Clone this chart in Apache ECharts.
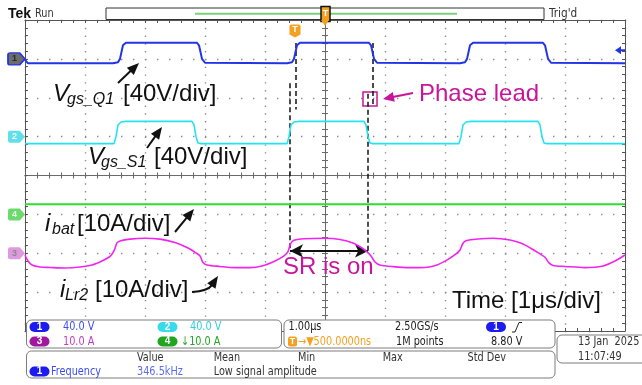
<!DOCTYPE html>
<html>
<head>
<meta charset="utf-8">
<script src="https://cdn.jsdelivr.net/npm/echarts@6/dist/echarts.min.js"></script>
<style>
  html, body { margin: 0; padding: 0; background: #fff; }
  #scope { width: 642px; height: 385px; }
</style>
</head>
<body>
<div id="scope"></div>
<script>
// ---- Acquisition settings -------------------------------------------------
// Time in microseconds relative to the trigger point (screen centre), 1 us/div
const TIME_MIN = -5;
const TIME_MAX = 5;
const DIV_MIN = -4;
const DIV_MAX = 4;

// Per-channel vertical scale (units/div) and position (divisions above centre)
const chScale  = [40, 40, 10, 10];
const chOffset = [3, 1, -2, -1];
const trigLevel = 8.8;              // V on channel 1
const triggerTime = -0.5;           // trigger point, us

// ---- Channel 1: Vgs_Q1 (V) ------------------------------------------------
const q1Time = [-5, -4.95, -3.533, -3.5, -3.45, -3.417, -3.367, -3.317, -2.133, -2.1, -2.05, -2.0, -1.967,
  -0.633, -0.6, -0.55, -0.517, -0.467, -0.417, 0.733, 0.767, 0.817, 0.867, 0.9,
  2.25, 2.283, 2.333, 2.367, 2.417, 2.467, 3.633, 3.667, 3.717, 3.767, 3.8, 5];
const q1Volt = [-1, -4.6, -4.6, -3.5, -3.5, 0, 14, 16.5, 16.5, 14, 0, -4.0, -4.6,
  -4.6, -3.5, -3.5, 0, 14, 16.5, 16.5, 14, 0, -4.0, -4.6,
  -4.6, -3.5, -3.5, 0, 14, 16.5, 16.5, 14, 0, -4.0, -4.6, -4.6];

// ---- Channel 2: Vgs_S1 (V) ------------------------------------------------
const s1Time = [-5, -3.517, -3.483, -3.45, -3.4, -3.317, -2.217, -2.183, -2.15, -2.117, -2.067,
  -0.633, -0.6, -0.567, -0.517, -0.433, 0.65, 0.683, 0.717, 0.75, 0.8,
  2.233, 2.267, 2.3, 2.35, 2.433, 3.55, 3.583, 3.617, 3.65, 3.7, 5];
const s1Volt = [-7.2, -7.2, 0, 12, 15.0, 15.7, 15.7, 12, 0, -6.5, -7.2,
  -7.2, 0, 12, 15.0, 15.7, 15.7, 12, 0, -6.5, -7.2,
  -7.2, 0, 12, 15.0, 15.7, 15.7, 12, 0, -6.5, -7.2, -7.2];

// ---- Channel 3: i_Lr2 (A) -------------------------------------------------
const lr2Time = [-5, -4.95, -4.883, -4.75, -4.583, -4.333, -4.083, -3.883, -3.717, -3.583, -3.517, -3.467,
  -3.417, -3.25, -3.0, -2.75, -2.5, -2.283, -2.15, -2.083, -2.033, -1.967, -1.75, -1.5, -1.25, -1.05,
  -0.833, -0.683, -0.617, -0.583, -0.533, -0.333, 0, 0.25, 0.467, 0.617, 0.7, 0.767, 0.833, 0.917,
  1.133, 1.417, 1.667, 1.867, 2.05, 2.183, 2.25, 2.3, 2.35, 2.55, 2.8, 3.083, 3.283, 3.45, 3.583,
  3.667, 3.733, 3.8, 4.0, 4.333, 4.633, 4.833, 5];
const lr2Amp = [-0.44, -1.98, -3.01, -3.52, -3.65, -3.78, -3.52, -3.01, -1.98, -0.82, 0.59, 2.65,
  3.16, 3.63, 3.86, 3.63, 2.78, 1.36, 0.08, -0.69, -2.37, -3.01, -3.39, -3.70, -3.70, -3.27,
  -1.98, -0.69, 0.41, 2.13, 3.24, 3.73, 3.86, 3.55, 2.65, 1.36, 0.33, -0.69, -2.24, -3.01,
  -3.45, -3.70, -3.65, -3.01, -1.59, -0.18, 0.85, 2.57, 3.24, 3.68, 3.86, 3.42, 2.52, 1.11, -0.18,
  -1.03, -2.49, -3.14, -3.39, -3.70, -3.27, -1.98, -0.44];

// ---- Channel 4: i_bat (A) -------------------------------------------------
const batTime = [-5, -2.5, 0, 2.5, 5];
const batAmp  = [2.6, 2.6, 2.6, 2.6, 2.6];

// ---- Cursor lines (time in us, extent in divisions) ----------------------
const cursorTime   = [-0.483, -0.583, 0.8, 0.717];
const cursorTop    = [3.41, 2.37, 3.41, 2.1];
const cursorBottom = [1.70, -1.94, 1.84, -1.94];
const srSpan = [-0.583, 0.717];     // synchronous rectifier conduction window
const srLevel = -1.94;
const leadBox = [[0.633, 1.79], [0.867, 2.15]];

// ---- Readout texts --------------------------------------------------------
const chReadout = ['40.0 V', '40.0 V', '10.0 A', '\u219310.0 A'];
const measHeaders = ['Value', 'Mean', 'Min', 'Max', 'Std Dev'];
const measRow = ['Frequency', '346.5kHz', 'Low signal amplitude'];

const C1 = '#2334e6', C2 = '#24e3ee', C3 = '#f024ef', C4 = '#30dc30';
const ANNO = '#c9159b', ORANGE = '#f4a020';
const SANS = '"Liberation Sans", Arial, sans-serif';
const NARROW = '"Liberation Sans Narrow", "DejaVu Sans Condensed", "Arial Narrow", sans-serif';

const pairs = (t, v) => t.map((x, i) => [x, v[i]]);

// ---- Graticule axes -------------------------------------------------------
const dotColor = '#8a8a8a', frameColor = '#555555', crossColor = '#6a6a6a';
function ticks(inside, color) {
  return {
    axisTick: { show: true, inside, length: 3, lineStyle: { color, width: 1 } },
    minorTick: { show: true, splitNumber: 5, length: 3, lineStyle: { color, width: 1 } }
  };
}
function timeAxis(extra) {
  return Object.assign({ type: 'value', min: TIME_MIN, max: TIME_MAX, interval: 1,
    axisLabel: { show: false }, splitLine: { show: false } }, extra);
}
function divAxis(extra) {
  return Object.assign({ type: 'value', min: DIV_MIN, max: DIV_MAX, interval: 1,
    axisLabel: { show: false }, splitLine: { show: false } }, extra);
}
const xAxes = [
  timeAxis(Object.assign({ position: 'bottom',
    axisLine: { show: true, onZero: true, onZeroAxisIndex: 0, lineStyle: { color: crossColor } },
    splitLine: { show: true, lineStyle: { color: dotColor, width: 1.4, type: [1.4, 6.375] } } }, ticks(true, crossColor))),
  timeAxis(Object.assign({ position: 'bottom',
    axisLine: { show: true, onZero: true, onZeroAxisIndex: 0, lineStyle: { color: crossColor } } }, ticks(false, crossColor))),
  timeAxis(Object.assign({ position: 'top',
    axisLine: { show: true, onZero: false, lineStyle: { color: frameColor } } }, ticks(true, frameColor))),
  timeAxis(Object.assign({ position: 'bottom',
    axisLine: { show: true, onZero: false, lineStyle: { color: frameColor } } }, ticks(true, frameColor)))
];
const yAxes = [
  divAxis(Object.assign({ position: 'left',
    axisLine: { show: true, onZero: true, onZeroAxisIndex: 0, lineStyle: { color: crossColor } },
    splitLine: { show: true, lineStyle: { color: dotColor, width: 1.4, type: [1.4, 10.6] } } }, ticks(true, crossColor))),
  divAxis(Object.assign({ position: 'left',
    axisLine: { show: true, onZero: true, onZeroAxisIndex: 0, lineStyle: { color: crossColor } } }, ticks(false, crossColor))),
  divAxis(Object.assign({ position: 'left',
    axisLine: { show: true, onZero: false, lineStyle: { color: frameColor } } }, ticks(true, frameColor))),
  divAxis(Object.assign({ position: 'right',
    axisLine: { show: true, onZero: false, lineStyle: { color: frameColor } } }, ticks(true, frameColor)))
];
// one hidden value axis per channel, scaled by its volts/amps per division
chScale.forEach((s, i) => {
  yAxes.push({ type: 'value', show: false, position: 'right',
    min: (DIV_MIN - chOffset[i]) * s, max: (DIV_MAX - chOffset[i]) * s });
});

// ---- Channel reference tags on the left edge -------------------------------
function channelTag(label, fill, stroke, textColor) {
  return {
    coord: [TIME_MIN, 0],
    symbol: 'path://M2,0 L11,0 L16,6 L11,12 L2,12 Q0,12 0,10 L0,2 Q0,0 2,0 Z',
    symbolSize: [17, 12], symbolOffset: [-8.5, 0],
    itemStyle: { color: fill, borderColor: stroke || fill, borderWidth: stroke ? 1.5 : 0 },
    label: { show: true, position: 'inside', formatter: label, color: textColor,
      fontSize: 9, fontWeight: 'bold', fontFamily: SANS, offset: [-2, 0] }
  };
}
function trace(name, data, axisIdx, color, width, tags, smooth) {
  return {
    type: 'line', name, xAxisIndex: 0, yAxisIndex: axisIdx, data,
    showSymbol: false, symbol: 'none', clip: false, silent: true, z: 5,
    smooth: smooth || false,
    lineStyle: { color, width }, itemStyle: { color },
    markPoint: { silent: true, animation: false, data: tags }
  };
}

const series = [
  trace('Vgs_Q1', pairs(q1Time, q1Volt), 4, C1, 2, [
    channelTag('1', '#6c6c6c', C1, '#2a2a2a'),
    { coord: [TIME_MAX, trigLevel], symbol: 'path://M0,4 L6,0 L6,3 L10,3 L10,5 L6,5 L6,8 Z',
      symbolSize: [10, 8], symbolOffset: [-5, 0], itemStyle: { color: C1 }, label: { show: false } }
  ]),
  trace('Vgs_S1', pairs(s1Time, s1Volt), 5, C2, 1.6, [channelTag('2', '#62dfe8', null, '#eaffff')]),
  trace('iLr2', pairs(lr2Time, lr2Amp), 6, C3, 1.6, [channelTag('3', '#de9ade', null, '#8a8a8a')], 0.3),
  trace('ibat', pairs(batTime, batAmp), 7, C4, 2.2, [channelTag('4', '#6cda6c', null, '#eaffea')]),
  {
    type: 'line', name: 'cursors', xAxisIndex: 0, yAxisIndex: 0, data: [], silent: true, z: 6,
    markLine: {
      silent: true, animation: false, symbol: 'none', label: { show: false },
      lineStyle: { color: '#111', width: 1.5, type: [5, 3] },
      data: cursorTime.map((t, i) => [{ coord: [t, cursorTop[i]] }, { coord: [t, cursorBottom[i]] }])
    },
    markArea: {
      silent: true, animation: false, label: { show: false },
      itemStyle: { color: 'rgba(0,0,0,0)', borderColor: ANNO, borderWidth: 1.5 },
      data: [[{ coord: leadBox[0] }, { coord: leadBox[1] }]]
    },
    markPoint: {
      silent: true, animation: false,
      data: [{
        coord: [triggerTime, 3.72],
        symbol: 'path://M2,0 L9,0 Q11,0 11,2 L11,10 L5.5,13 L0,10 L0,2 Q0,0 2,0 Z',
        symbolSize: [11, 13], itemStyle: { color: ORANGE },
        label: { show: true, position: 'inside', formatter: 'T', color: '#fff',
          fontSize: 9, fontWeight: 'bold', fontFamily: SANS, offset: [0, -1] }
      }]
    }
  },
  {
    type: 'line', name: 'sr-window', xAxisIndex: 0, yAxisIndex: 0, data: [], silent: true, z: 6,
    markLine: {
      silent: true, animation: false, symbol: ['arrow', 'arrow'], symbolSize: [10, 13],
      label: { show: false }, lineStyle: { color: '#111', width: 2, type: 'solid' },
      data: [[{ coord: [srSpan[0], srLevel] }, { coord: [srSpan[1], srLevel] }]]
    }
  }
];

// ---- Annotation helpers ---------------------------------------------------
function txt(x, baseline, s, size, color, opts) {
  opts = opts || {};
  return { type: 'text', silent: true, z: 50, style: {
    x, y: baseline - 0.31 * size, text: s, fill: color, fontSize: size,
    fontFamily: opts.family || SANS, fontStyle: opts.italic ? 'italic' : 'normal',
    fontWeight: opts.bold ? 'bold' : 'normal', align: opts.align || 'left', verticalAlign: 'middle' } };
}
// condensed instrument readout text
function ptxt(x, yc, s, color, size, align) {
  return { type: 'text', silent: true, z: 110, x, y: yc, scaleX: 0.9, scaleY: 1,
    style: { x: 0, y: 0, text: s, fill: color, fontSize: size || 12, fontFamily: NARROW,
      align: align || 'left', verticalAlign: 'middle' } };
}
function arrow(x1, y1, x2, y2, color, w, hl, hw, cpx, cpy) {
  const fx = cpx == null ? x1 : cpx, fy = cpy == null ? y1 : cpy;
  const dx = x2 - fx, dy = y2 - fy, L = Math.hypot(dx, dy);
  const ux = dx / L, uy = dy / L;
  const bx = x2 - ux * hl, by = y2 - uy * hl;
  const px = -uy * hw / 2, py = ux * hw / 2;
  const shaft = cpx == null
    ? { type: 'line', shape: { x1, y1, x2: bx + ux, y2: by + uy } }
    : { type: 'bezierCurve', shape: { x1, y1, cpx1: cpx, cpy1: cpy, x2: bx + ux, y2: by + uy } };
  shaft.style = { stroke: color, lineWidth: w, fill: null };
  shaft.silent = true; shaft.z = 50;
  return [shaft, { type: 'polygon', silent: true, z: 50,
    shape: { points: [[x2, y2], [bx + px, by + py], [bx - px, by - py]] }, style: { fill: color } }];
}
function box(x, y, w, h) {
  return { type: 'rect', silent: true, z: 100, shape: { x, y, width: w, height: h, r: 5 },
    style: { fill: '#fff', stroke: '#7c7c7c', lineWidth: 1 } };
}
function badge(x, yc, n, fill) {
  return [
    { type: 'rect', silent: true, z: 105, shape: { x, y: yc - 5, width: 20, height: 10, r: 5 }, style: { fill } },
    { type: 'text', silent: true, z: 110, style: { x: x + 10, y: yc, text: n, fill: '#fff', fontSize: 10,
      fontWeight: 'bold', fontFamily: SANS, align: 'center', verticalAlign: 'middle' } }
  ];
}

const graphics = [].concat(
  // header
  [txt(8, 18, 'Tek', 14, '#111', { bold: true }),
   ptxt(35, 14, 'Run', '#333', 12),
   { type: 'rect', silent: true, z: 40, shape: { x: 106, y: 8, width: 438, height: 11.5 },
     style: { fill: '#fff', stroke: '#333', lineWidth: 1 } },
   { type: 'line', silent: true, z: 41, shape: { x1: 195, y1: 13.8, x2: 457, y2: 13.8 },
     style: { stroke: '#7bcf7b', lineWidth: 2 } },
   { type: 'rect', silent: true, z: 42, shape: { x: 321, y: 6.5, width: 9, height: 15 },
     style: { fill: ORANGE, stroke: '#111', lineWidth: 1.5 } },
   { type: 'text', silent: true, z: 43, style: { x: 325.5, y: 14, text: 'T', fill: '#fff', fontSize: 9,
     fontWeight: 'bold', fontFamily: SANS, align: 'center', verticalAlign: 'middle' } },
   { type: 'polygon', silent: true, z: 42, shape: { points: [[321, 20], [329, 20], [325, 26]] },
     style: { fill: ORANGE } },
   ptxt(549, 14, "Trig'd", '#333', 13)],
  // signal labels
  [txt(53, 101.5, 'V', 24, '#111', { italic: true }),
   txt(67, 104.5, 'gs_Q1', 16, '#111', { italic: true }),
   txt(123, 101.5, '[40V/div]', 24, '#111'),
   txt(88, 165, 'V', 24, '#111', { italic: true }),
   txt(101, 168, 'gs_S1', 16, '#111', { italic: true }),
   txt(154, 165, '[40V/div]', 24, '#111'),
   txt(45, 232, 'i', 24, '#111', { italic: true }),
   txt(52, 235, 'bat', 16, '#111', { italic: true }),
   txt(77, 232, '[10A/div]', 24, '#111'),
   txt(60, 298, 'i', 24, '#111', { italic: true }),
   txt(65, 301, 'Lr2', 16, '#111', { italic: true }),
   txt(95, 298, '[10A/div]', 24, '#111'),
   txt(419, 102, 'Phase lead', 24, ANNO),
   txt(283, 275, 'SR is on', 24, ANNO),
   txt(452, 309, 'Time [1\u03bcs/div]', 24, '#111')],
  arrow(118, 83, 139, 63, '#111', 2, 12, 10),
  arrow(147, 148, 162, 127, '#111', 2, 12, 10),
  arrow(175, 232, 194, 209, '#111', 2, 12, 10),
  arrow(192, 292, 218, 276, '#111', 2, 12, 10, 208, 291),
  arrow(413, 93, 383, 99, ANNO, 2, 11, 10),
  // readout panels
  [box(26.5, 320, 255, 28), box(284, 320, 271, 28), box(26.5, 351, 528.5, 27), box(557, 335, 95, 28)],
  badge(29.5, 327, '1', '#1c1cf0'), badge(157.5, 327, '2', '#36dcec'),
  badge(29.5, 341.5, '3', '#a0189f'), badge(157.5, 341.5, '4', '#1fa61f'),
  [ptxt(63, 327, chReadout[0], '#3c4ef0'), ptxt(190, 327, chReadout[1], '#2ccfe0'),
   ptxt(63, 341.5, chReadout[2], '#c23ec2'), ptxt(181, 341.5, chReadout[3], '#22a622'),
   ptxt(288.5, 327, '1.00\u00b5s', '#222'),
   { type: 'rect', silent: true, z: 105, shape: { x: 288, y: 336.5, width: 9, height: 10, r: 2 }, style: { fill: ORANGE } },
   { type: 'text', silent: true, z: 110, style: { x: 292.5, y: 341.5, text: 'T', fill: '#fff', fontSize: 9,
     fontWeight: 'bold', fontFamily: SANS, align: 'center', verticalAlign: 'middle' } },
   ptxt(298, 341.5, '\u2192\u25bc500.0000ns', ORANGE),
   ptxt(395, 327, '2.50GS/s', '#222'), ptxt(396, 341.5, '1M points', '#222'),
   ptxt(491, 341.5, '8.80 V', '#222')],
  badge(486, 327, '1', '#1c1cf0'),
  [{ type: 'polyline', silent: true, z: 110,
     shape: { points: [[512, 332], [515, 332], [519, 322.5], [522, 322.5]] },
     style: { stroke: '#222', lineWidth: 1, fill: null } }],
  measHeaders.map((h, i) => ptxt([137, 213.7, 298, 382.7, 467.5][i], 358, h, '#333')),
  badge(29.5, 371.5, '1', '#1c1cf0'),
  [ptxt(51, 371.5, measRow[0], '#3c4ef0'), ptxt(137, 371.5, measRow[1], '#5a6cf5'),
   ptxt(213.7, 371.5, measRow[2], '#333'),
   ptxt(578, 342, '13 Jan  2025', '#333'), ptxt(578, 356.5, '11:07:49', '#333')]
);

const chart = echarts.init(document.getElementById('scope'), null, { renderer: 'canvas', width: 642, height: 385 });
chart.setOption({
  animation: false,
  backgroundColor: '#ffffff',
  grid: { left: 25, top: 20, width: 600, height: 311, show: false, containLabel: false, outerBoundsMode: 'none' },
  xAxis: xAxes,
  yAxis: yAxes,
  series,
  graphic: { elements: graphics }
});
</script>
</body>
</html>
